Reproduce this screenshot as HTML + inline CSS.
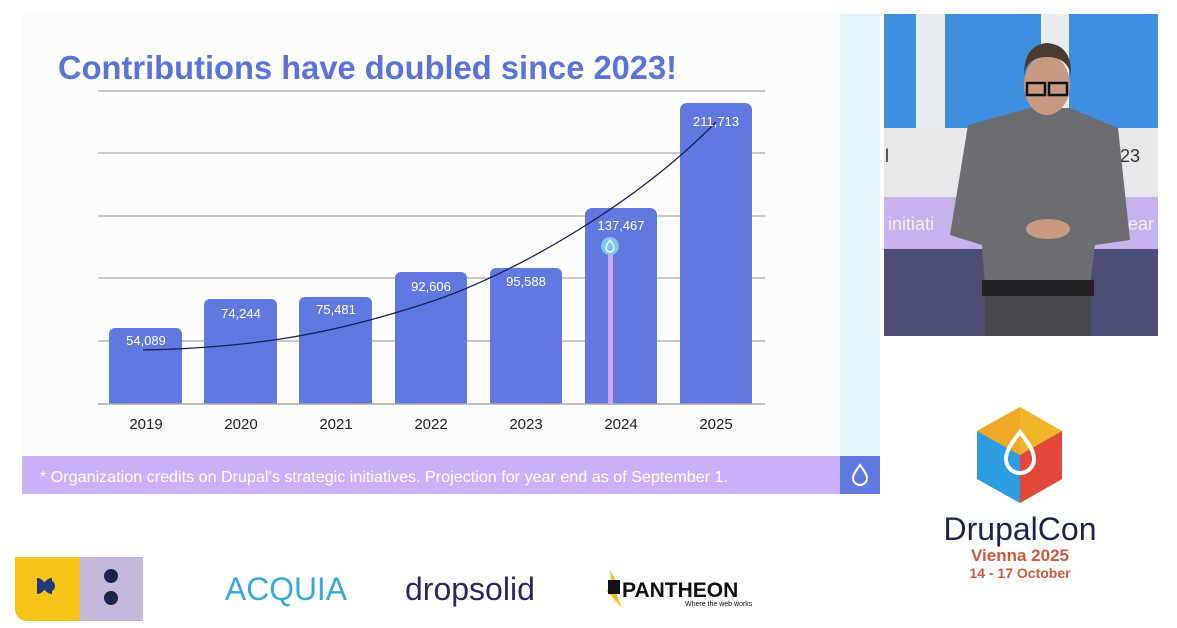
<!DOCTYPE html>
<html><head><meta charset="utf-8"><style>
body{margin:0;width:1177px;height:628px;overflow:hidden;background:#fff;font-family:"Liberation Sans",sans-serif}
</style></head><body>
<svg width="1177" height="628" viewBox="0 0 1177 628" xmlns="http://www.w3.org/2000/svg" style="position:absolute;left:0;top:0">
<rect x="22" y="14" width="858" height="480" fill="#fbfcfb"/>
<rect x="840" y="14" width="40" height="442" fill="#e3f4fb"/>
<text x="58" y="79" font-size="33" font-weight="bold" fill="#5b73d9" textLength="619" lengthAdjust="spacingAndGlyphs">Contributions have doubled since 2023!</text>
<g stroke="#a8a8a8" stroke-width="1.3">
<line x1="98" y1="91" x2="765" y2="91"/><line x1="98" y1="153" x2="765" y2="153"/>
<line x1="98" y1="216" x2="765" y2="216"/><line x1="98" y1="278" x2="765" y2="278"/>
<line x1="98" y1="341" x2="765" y2="341"/>
</g>
<g fill="#6078e0">
<path d="M109 404V334a6 6 0 0 1 6-6h61a6 6 0 0 1 6 6V404Z"/>
<path d="M204 404V305a6 6 0 0 1 6-6h61a6 6 0 0 1 6 6V404Z"/>
<path d="M299 404V303a6 6 0 0 1 6-6h61a6 6 0 0 1 6 6V404Z"/>
<path d="M395 404V278a6 6 0 0 1 6-6h60a6 6 0 0 1 6 6V404Z"/>
<path d="M490 404V274a6 6 0 0 1 6-6h60a6 6 0 0 1 6 6V404Z"/>
<path d="M585 404V215a7 7 0 0 1 7-7h58a7 7 0 0 1 7 7V404Z"/>
<path d="M680 404V110a7 7 0 0 1 7-7h58a7 7 0 0 1 7 7V404Z"/>
</g>
<line x1="98" y1="404" x2="765" y2="404" stroke="#a8a8a8" stroke-width="1.5"/>
<rect x="608" y="248" width="5" height="156" fill="#c9a8f0"/>
<circle cx="610" cy="246" r="9" fill="#7dc6ef"/>
<path d="M610 240c-3 4-4 6-4 8a4 4 0 0 0 8 0c0-2-1-4-4-8z" fill="none" stroke="#fff" stroke-width="1.3"/>
<path d="M143 350 C 250 348, 330 335, 430 302 C 520 272, 640 200, 716 122" fill="none" stroke="#1a1f5a" stroke-width="1.3"/>
<g fill="#fff" font-size="13" text-anchor="middle">
<text x="146" y="345">54,089</text><text x="241" y="318">74,244</text><text x="336" y="314">75,481</text>
<text x="431" y="291">92,606</text><text x="526" y="286">95,588</text><text x="621" y="230">137,467</text>
<text x="716" y="126">211,713</text>
</g>
<g fill="#222" font-size="15" text-anchor="middle">
<text x="146" y="429">2019</text><text x="241" y="429">2020</text><text x="336" y="429">2021</text>
<text x="431" y="429">2022</text><text x="526" y="429">2023</text><text x="621" y="429">2024</text><text x="716" y="429">2025</text>
</g>
<rect x="22" y="456" width="818" height="38" fill="#cbb0fa"/>
<rect x="840" y="456" width="40" height="38" fill="#6078e0"/>
<path d="M860 465c-5 7-7 10-7 13a7 7 0 0 0 14 0c0-3-2-6-7-13z" fill="none" stroke="#fff" stroke-width="2"/>
<text x="40" y="482" font-size="16" fill="#fff" textLength="688" lengthAdjust="spacingAndGlyphs">* Organization credits on Drupal’s strategic initiatives. Projection for year end as of September 1.</text>
<!-- video -->
<rect x="884" y="14" width="274" height="114" fill="#3f8fe0"/>
<rect x="916" y="14" width="29" height="114" fill="#e8ecef"/>
<rect x="1041" y="14" width="28" height="114" fill="#e8ecef"/>
<rect x="884" y="128" width="274" height="69" fill="#e6e8ea"/>
<rect x="884" y="197" width="274" height="52" fill="#c7b2ee"/>
<rect x="884" y="249" width="274" height="87" fill="#4c4f75"/>
<text x="885" y="162" font-size="18" fill="#333">l</text>
<text x="1110" y="162" font-size="18" fill="#333">023</text>
<text x="888" y="230" font-size="18" fill="#f2ecfb">initiati</text>
<text x="1128" y="230" font-size="18" fill="#f2ecfb">ear</text>
<path d="M968 125 L1030 108 L1070 108 L1118 128 L1130 240 L1095 245 L1090 285 L985 285 L982 245 L950 235 Z" fill="#6b6d70"/>
<rect x="982" y="280" width="112" height="16" fill="#222"/>
<rect x="985" y="296" width="106" height="40" fill="#46484c"/>
<ellipse cx="1047" cy="85" rx="23" ry="30" fill="#c99a83"/>
<path d="M1024 75 q0-30 23-32 q25 2 24 32 q-4-18-24-18 q-20 0-23 18z" fill="#4a3b30"/>
<rect x="1027" y="83" width="18" height="12" fill="none" stroke="#111" stroke-width="2.5"/>
<rect x="1049" y="83" width="18" height="12" fill="none" stroke="#111" stroke-width="2.5"/>
<ellipse cx="1048" cy="229" rx="22" ry="10" fill="#c99a83"/>
<!-- drupalcon logo -->
<polygon points="1020,407 1062,431 1062,479 1020,503 977,479 977,431" fill="#f0b428"/>
<polygon points="1020,455 977,431 977,479 1020,503" fill="#2d9ce0"/>
<polygon points="1020,455 1062,431 1062,479 1020,503" fill="#e2483a"/>
<polygon points="1020,455 977,431 1020,407" fill="#f0a828"/>
<path d="M1020 432c-10 13-14 20-14 27a14 14 0 0 0 28 0c0-7-4-14-14-27z" fill="none" stroke="#fff" stroke-width="4"/>
<text x="1020" y="540" font-size="32" fill="#1e2251" text-anchor="middle">DrupalCon</text>
<text x="1020" y="561" font-size="17" font-weight="bold" fill="#d0573c" text-anchor="middle">Vienna 2025</text>
<text x="1020" y="578" font-size="14" font-weight="bold" fill="#d0573c" text-anchor="middle">14 - 17 October</text>
<!-- bottom logos -->
<path d="M15 557H80V621H27a12 12 0 0 1-12-12Z" fill="#f8c41a"/>
<rect x="80" y="557" width="63" height="64" fill="#c4b8dc"/>
<path d="M37 578v16a8 8 0 0 0 0-16z" fill="#1e3a78"/>
<path d="M52 578a8 8 0 0 0 0 16z" fill="#1e3a78"/>
<circle cx="49" cy="586" r="6" fill="#1e3a78"/>
<circle cx="111" cy="576" r="7" fill="#1e2251"/><circle cx="111" cy="598" r="7" fill="#1e2251"/>
<text x="225" y="600" font-size="32" fill="#36a8df" textLength="122" lengthAdjust="spacingAndGlyphs">ACQUIA</text>
<text x="405" y="600" font-size="32" fill="#2a2668">dropsolid</text>
<polygon points="610,570 620,588 614,588 622,608 606,590 612,590" fill="#f5c020"/>
<rect x="608" y="580" width="12" height="14" fill="#111"/>
<text x="622" y="597" font-size="21" font-weight="bold" fill="#111">PANTHEON</text>
<text x="685" y="606" font-size="7" fill="#111">Where the web works</text>
</svg>
</body></html>
